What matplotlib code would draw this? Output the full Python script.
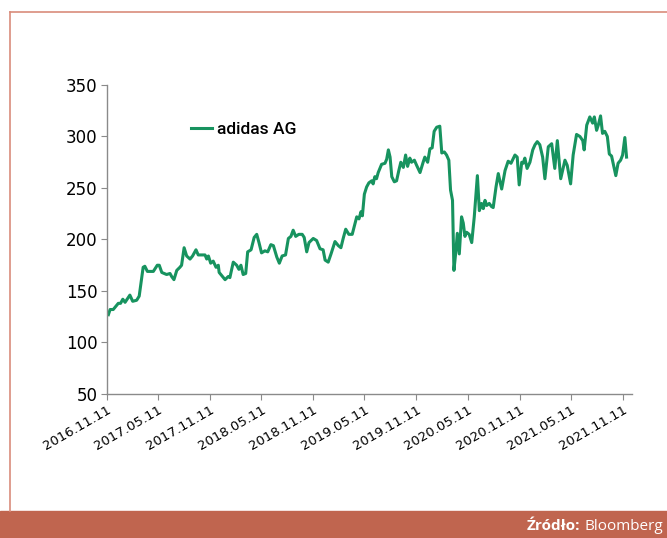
import numpy as np
import pandas as pd
import matplotlib.pyplot as plt
from matplotlib.lines import Line2D
from matplotlib.patches import Rectangle

# adidas AG share price (EUR)
start = pd.Timestamp('2016-11-11')
days = [5, 11, 22, 28, 40, 48, 56, 64, 81, 91, 105, 114, 123, 128, 134, 143, 164, 178, 185, 194,
        211, 223, 229, 237, 247, 258, 264, 273, 282, 294, 303, 315, 323, 335, 347, 353, 359, 367, 376, 386,
        394, 397, 406, 418, 429, 435, 447, 459, 467, 474, 482, 491, 498, 510, 521, 530, 538, 547, 559, 569,
        580, 589, 601, 610, 620, 632, 642, 651, 659, 668, 679, 691, 698, 707, 715, 730, 742, 754, 765, 772,
        783, 793, 807, 819, 828, 836, 845, 856, 868, 884, 892, 899, 904, 911, 919, 927, 937, 942, 948, 954,
        960, 972, 984, 990, 996, 1002, 1008, 1017, 1025, 1033, 1040, 1049, 1057, 1064, 1072, 1078, 1088, 1096, 1108, 1119,
        1125, 1135, 1143, 1151, 1158, 1167, 1178, 1185, 1194, 1202, 1210, 1216, 1223, 1228, 1235, 1240, 1247, 1255, 1261, 1267,
        1273, 1282, 1291, 1300, 1311, 1318, 1326, 1332, 1338, 1344, 1353, 1361, 1367, 1377, 1385, 1397, 1409, 1420, 1430, 1444,
        1452, 1459, 1468, 1473, 1479, 1487, 1497, 1507, 1515, 1523, 1532, 1542, 1550, 1562, 1574, 1585, 1594, 1606, 1621, 1629,
        1641, 1650, 1662, 1674, 1684, 1689, 1698, 1709, 1719, 1725, 1733, 1739, 1747, 1754, 1762, 1771, 1778, 1786, 1801, 1809,
        1818, 1825, 1833, 1839]
price = [127, 132, 132, 134, 138, 138, 142, 139, 146, 140, 141, 145, 163, 173, 174, 169, 169, 175, 175, 168,
         166, 167, 164, 161, 170, 173, 175, 192, 184, 181, 184, 190, 185, 185, 185, 181, 184, 177, 179, 173,
         175, 168, 165, 161, 164, 163, 178, 175, 171, 175, 166, 167, 188, 190, 202, 205, 197, 187, 189, 188,
         195, 194, 183, 177, 184, 185, 201, 203, 209, 203, 205, 205, 202, 188, 197, 201, 199, 191, 190, 180,
         178, 186, 198, 194, 192, 201, 210, 205, 205, 222, 220, 227, 223, 244, 251, 255, 257, 254, 261, 259,
         265, 273, 274, 278, 287, 280, 261, 256, 257, 267, 275, 270, 282, 271, 279, 275, 277, 272, 265, 275,
         280, 275, 288, 289, 305, 309, 310, 284, 285, 282, 277, 248, 238, 170, 189, 206, 186, 222, 216, 203,
         207, 205, 197, 222, 262, 228, 235, 230, 238, 233, 235, 232, 231, 251, 264, 249, 267, 276, 274, 282,
         280, 253, 275, 274, 279, 269, 275, 287, 292, 295, 292, 280, 259, 290, 293, 269, 296, 259, 277, 272,
         254, 282, 302, 300, 296, 287, 311, 319, 313, 319, 306, 311, 320, 303, 305, 300, 283, 281, 262, 274,
         277, 282, 299, 280]

tick_dates = ['2016-11-11', '2017-05-11', '2017-11-11', '2018-05-11', '2018-11-11', '2019-05-11',
              '2019-11-11', '2020-05-11', '2020-11-11', '2021-05-11', '2021-11-11']
tick_labels = [d.replace('-', '.') for d in tick_dates]

dates = start + pd.to_timedelta(days, unit='D')
green = '#17935F'
frame = '#D98C7C'
band = '#C0654F'

fig = plt.figure(figsize=(6.67, 5.38), dpi=100)
ax = fig.add_axes([0.1604, 0.2677, 0.787, 0.5743])

ax.plot(dates, price, color=green, lw=2.2, label='adidas AG')
ax.set_ylim(50, 350)
ax.set_yticks(range(50, 351, 50))
ax.set_xlim(start, pd.Timestamp('2021-12-13'))
ax.set_xticks(pd.to_datetime(tick_dates))
ax.set_xticklabels(tick_labels, rotation=30, ha='right', rotation_mode='anchor',
                   fontsize=9.5, family='DejaVu Sans')
for lab in ax.get_yticklabels():
    lab.set_fontsize(12)
    lab.set_family('DejaVu Sans')
    lab.set_fontweight('medium')

for s in ['top', 'right']:
    ax.spines[s].set_visible(False)
for s in ['left', 'bottom']:
    ax.spines[s].set_color('#8a8a8a')
    ax.spines[s].set_linewidth(1.0)
ax.tick_params(axis='both', direction='out', length=4, color='#8a8a8a', pad=3)

leg = ax.legend(loc='upper left', bbox_to_anchor=(0.13, 0.93), frameon=False,
                handlelength=1.2, handletextpad=0.3,
                prop={'family': 'Roboto', 'size': 12.5, 'weight': 'medium'})

# outer frame and footer band
fig.add_artist(Line2D([10 / 667, 1], [1 - 12 / 538] * 2, color=frame, lw=1.2))
fig.add_artist(Line2D([10 / 667] * 2, [1 - 12 / 538, 27 / 538], color=frame, lw=1.2))
fig.add_artist(Rectangle((0, 0), 1, 27 / 538, color=band, transform=fig.transFigure))
t = fig.text(663 / 667, 12 / 538, 'Bloomberg', color='white', ha='right', va='center',
             fontsize=11, family='Open Sans')
fig.canvas.draw()
bb = t.get_window_extent()
fig.text(bb.x0 / fig.bbox.width - 4 / 667, 12 / 538, 'Źródło:', color='white', ha='right',
         va='center', fontsize=11, family='Open Sans', fontweight='bold')

fig.savefig('out.png', dpi=100)
